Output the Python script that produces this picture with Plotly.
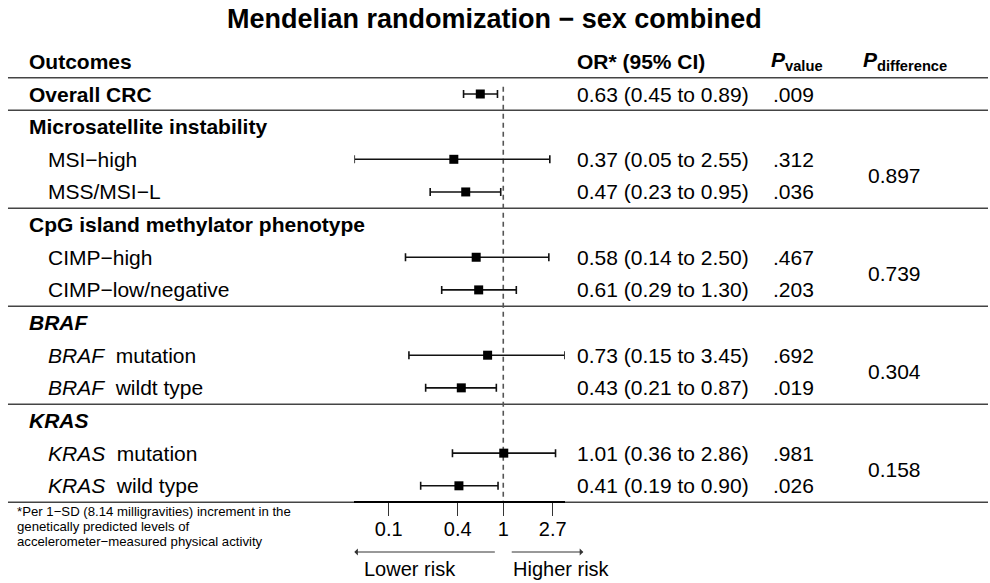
import numpy as np
import plotly.graph_objects as go

# ---------------- data ----------------
title_text = "Mendelian randomization − sex combined"
header_labels = ["<b>Outcomes</b>", "<b>OR* (95% CI)</b>",
                 "<b><i>P</i><sub>value</sub></b>", "<b><i>P</i><sub>difference</sub></b>"]
row_labels = ["<b>Overall CRC</b>",
              "<b>Microsatellite instability</b>", "MSI−high", "MSS/MSI−L",
              "<b>CpG island methylator phenotype</b>", "CIMP−high", "CIMP−low/negative",
              "<b><i>BRAF</i></b>", "<i>BRAF</i>  mutation", "<i>BRAF</i>  wildt type",
              "<b><i>KRAS</i></b>", "<i>KRAS</i>  mutation", "<i>KRAS</i>  wild type"]
is_sub = [False, False, True, True, False, True, True, False, True, True, False, True, True]
is_group_start = [True, True, False, False, True, False, False, True, False, False, True, False, False]
or_est = [0.63, None, 0.37, 0.47, None, 0.58, 0.61, None, 0.73, 0.43, None, 1.01, 0.41]
ci_lo = [0.45, None, 0.05, 0.23, None, 0.14, 0.29, None, 0.15, 0.21, None, 0.36, 0.19]
ci_hi = [0.89, None, 2.55, 0.95, None, 2.50, 1.30, None, 3.45, 0.87, None, 2.86, 0.90]
p_value = [".009", "", ".312", ".036", "", ".467", ".203", "", ".692", ".019", "", ".981", ".026"]
pdiff_group = [None, None, 0, 0, None, 1, 1, None, 2, 2, None, 3, 3]
p_diff = ["0.897", "0.739", "0.304", "0.158"]
tick_vals = [0.1, 0.4, 1, 2.7]
tick_text = ["0.1", "0.4", "1", "2.7"]
footnote_lines = ["*Per 1−SD (8.14 milligravities) increment in the",
                  "genetically predicted levels of",
                  "accelerometer−measured physical activity"]
arrow_labels = ["Lower risk", "Higher risk"]

# ---------------- layout constants ----------------
W, H = 990, 583
FONT = "Liberation Sans, Arial, Helvetica, sans-serif"
ROW_PX = 32.65
ROW0_PX = 94.0
n = len(row_labels)
rows = list(range(n))


def fx(p):
    """pixel x -> paper x"""
    return p / W


def fy(p):
    """pixel y (from top) -> paper y"""
    return 1 - p / H


def px_to_row(p):
    return (p - ROW0_PX) / ROW_PX


fig = go.Figure()

# reference line at OR = 1
fig.add_trace(go.Scatter(x=[1, 1], y=[-0.22, n - 0.5], mode="lines",
                         line=dict(color="#555555", width=1.6, dash="5px,4px"),
                         hoverinfo="skip", cliponaxis=False))

# estimates with CI
idx = [i for i in rows if or_est[i] is not None]
xs = np.array([or_est[i] for i in idx])
lo = np.array([ci_lo[i] for i in idx])
hi = np.array([ci_hi[i] for i in idx])
fig.add_trace(go.Scatter(
    x=xs, y=idx, mode="markers",
    marker=dict(symbol="square", size=9, color="black"),
    error_x=dict(type="data", symmetric=False, array=hi - xs, arrayminus=xs - lo,
                 color="#111111", thickness=1.6, width=4),
    cliponaxis=False, hoverinfo="skip"))

annotations = []
# title
annotations.append(dict(text="<b>" + title_text + "</b>", x=fx(495), xref="paper", xanchor="center",
                        y=fy(19), yref="paper", yanchor="middle", showarrow=False,
                        font=dict(size=27, color="black", family=FONT)))
# header
col_x = [27, 576, 771, 863]
for lab, cx in zip(header_labels, col_x):
    annotations.append(dict(text=lab, x=fx(cx), xref="paper", xanchor="left",
                            y=-1, yref="y", yanchor="middle", showarrow=False,
                            font=dict(size=21, color="black", family=FONT)))
# rows
for i in rows:
    annotations.append(dict(text=row_labels[i], x=fx(46 if is_sub[i] else 27), xref="paper",
                            xanchor="left", y=i, yref="y", yanchor="middle", showarrow=False,
                            font=dict(size=21, color="black", family=FONT)))
    if or_est[i] is not None:
        txt = f"{or_est[i]:.2f} ({ci_lo[i]:.2f} to {ci_hi[i]:.2f})"
        annotations.append(dict(text=txt, x=fx(576), xref="paper", xanchor="left",
                                y=i, yref="y", yanchor="middle", showarrow=False,
                                font=dict(size=21, color="black", family=FONT)))
        annotations.append(dict(text=p_value[i], x=fx(773), xref="paper", xanchor="left",
                                y=i, yref="y", yanchor="middle", showarrow=False,
                                font=dict(size=21, color="black", family=FONT)))
for g, txt in enumerate(p_diff):
    members = [i for i in rows if pdiff_group[i] == g]
    annotations.append(dict(text=txt, x=fx(868), xref="paper", xanchor="left",
                            y=float(np.mean(members)), yref="y", yanchor="middle", showarrow=False,
                            font=dict(size=21, color="black", family=FONT)))
# footnote
for k, line in enumerate(footnote_lines):
    annotations.append(dict(text=line, x=fx(15), xref="paper", xanchor="left",
                            y=fy(511.5 + 14.8 * k), yref="paper", yanchor="middle", showarrow=False,
                            font=dict(size=13.2, color="black", family=FONT)))
# arrows
lx0, lx1 = np.log10(min(v for v in ci_lo if v)), np.log10(0.87)
rx0, rx1 = np.log10(1.15), np.log10(5.0)
ay_paper = fy(552)
annotations.append(dict(text="", x=lx0, xref="x", y=ay_paper, yref="paper",
                        ax=lx1, axref="x", ay=0, ayref="pixel", showarrow=True,
                        arrowhead=1, arrowsize=1.2, arrowwidth=1, arrowcolor="#333333"))
annotations.append(dict(text="", x=rx1, xref="x", y=ay_paper, yref="paper",
                        ax=rx0, axref="x", ay=0, ayref="pixel", showarrow=True,
                        arrowhead=1, arrowsize=1.2, arrowwidth=1, arrowcolor="#333333"))
annotations.append(dict(text=arrow_labels[0], x=fx(363), xref="paper", xanchor="left",
                        y=fy(569), yref="paper", yanchor="middle", showarrow=False,
                        font=dict(size=20, color="black", family=FONT)))
annotations.append(dict(text=arrow_labels[1], x=fx(512), xref="paper", xanchor="left",
                        y=fy(569), yref="paper", yanchor="middle", showarrow=False,
                        font=dict(size=20, color="black", family=FONT)))

# separator lines
bounds = [-0.5] + [i - 0.5 for i in rows if is_group_start[i] and i > 0] + [n - 0.5]
shapes = []
for b in bounds:
    shapes.append(dict(type="line", xref="paper", x0=fx(8), x1=1, yref="y", y0=b, y1=b,
                       line=dict(color="#444444", width=1.5), layer="below"))

x_lo = np.log10(min(v for v in ci_lo if v))
x_hi = np.log10(max(v for v in ci_hi if v))

fig.update_layout(
    width=W, height=H, margin=dict(l=0, r=0, t=0, b=0),
    paper_bgcolor="white", plot_bgcolor="rgba(0,0,0,0)", showlegend=False,
    font=dict(family=FONT, color="black"),
    xaxis=dict(type="log", domain=[fx(355), fx(566)], range=[x_lo, x_hi],
               anchor="free", position=fy(502),
               showline=True, linecolor="black", linewidth=2,
               ticks="outside", ticklen=13, tickwidth=1, tickcolor="#333333",
               tickvals=tick_vals, ticktext=tick_text, ticklabelstandoff=-4,
               tickfont=dict(size=20, color="black", family=FONT),
               showgrid=False, zeroline=False, fixedrange=True),
    yaxis=dict(range=[px_to_row(H), px_to_row(0)], domain=[0, 1], visible=False,
               showgrid=False, zeroline=False, fixedrange=True),
    annotations=annotations, shapes=shapes,
)

fig.write_html("out.html", config={"displayModeBar": False},
               post_script="document.body.style.margin='0px';")
